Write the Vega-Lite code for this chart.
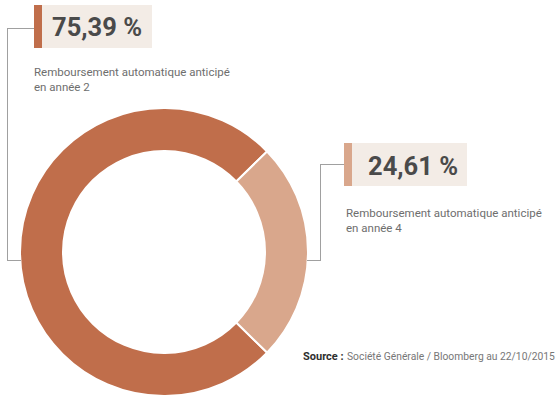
{
  "$schema": "https://vega.github.io/schema/vega-lite/v6.json",
  "width": 558,
  "height": 398,
  "padding": 0,
  "autosize": {"type": "none"},
  "background": "white",
  "config": {"view": {"stroke": null}},
  "data": {"values": [
    {"annee": "en année 2", "value": 75.39, "texte": "Remboursement automatique anticipé\nen année 2"},
    {"annee": "en année 4", "value": 24.61, "texte": "Remboursement automatique anticipé\nen année 4"}
  ]},
  "transform": [
    {"calculate": "replace(format(datum.value, '.2f'), '.', ',') + ' %'", "as": "pct"}
  ],
  "layer": [
    {
      "mark": {"type": "arc", "radius": 144, "radius2": 101, "stroke": "white", "strokeWidth": 2},
      "encoding": {
        "theta": {"field": "value", "type": "quantitative", "stack": true, "scale": {"range": [2.344, 8.6272]}},
        "order": {"field": "value", "type": "quantitative", "sort": "descending"},
        "color": {"field": "annee", "type": "nominal", "scale": {"domain": ["en année 2", "en année 4"], "range": ["#C06E4B", "#D9A78C"]}, "legend": null},
        "x": {"datum": 164, "type": "quantitative", "scale": {"domain": [0, 558], "nice": false, "zero": false}, "axis": null},
        "y": {"datum": 252, "type": "quantitative", "scale": {"domain": [0, 398], "nice": false, "zero": false, "reverse": true}, "axis": null}
      }
    },
    {
      "transform": [{"filter": "datum.annee == 'en année 2'"}],
      "layer": [
        {
          "mark": {"type": "rect", "color": "#F3ECE6"},
          "encoding": {
            "x": {"datum": 42, "type": "quantitative", "scale": {"domain": [0, 558], "nice": false, "zero": false}, "axis": null},
            "x2": {"datum": 152},
            "y": {"datum": 5, "type": "quantitative", "scale": {"domain": [0, 398], "nice": false, "zero": false, "reverse": true}, "axis": null},
            "y2": {"datum": 48}
          }
        },
        {
          "mark": {"type": "rect"},
          "encoding": {
            "x": {"datum": 34, "type": "quantitative", "scale": {"domain": [0, 558], "nice": false, "zero": false}, "axis": null},
            "x2": {"datum": 42},
            "y": {"datum": 5, "type": "quantitative", "scale": {"domain": [0, 398], "nice": false, "zero": false, "reverse": true}, "axis": null},
            "y2": {"datum": 48},
            "color": {"field": "annee", "type": "nominal", "legend": null}
          }
        },
        {
          "mark": {"type": "text", "align": "left", "baseline": "alphabetic", "font": "Roboto", "fontWeight": "bold", "fontSize": 25.5, "color": "#4A4A4A"},
          "encoding": {
            "x": {"datum": 52, "type": "quantitative", "scale": {"domain": [0, 558], "nice": false, "zero": false}, "axis": null},
            "y": {"datum": 36, "type": "quantitative", "scale": {"domain": [0, 398], "nice": false, "zero": false, "reverse": true}, "axis": null},
            "text": {"field": "pct", "type": "nominal"}
          }
        },
        {
          "mark": {"type": "text", "align": "left", "baseline": "alphabetic", "font": "Roboto", "fontSize": 11.5, "lineHeight": 14.5, "lineBreak": "\n", "color": "#6E6E6E"},
          "encoding": {
            "x": {"datum": 34, "type": "quantitative", "scale": {"domain": [0, 558], "nice": false, "zero": false}, "axis": null},
            "y": {"datum": 76, "type": "quantitative", "scale": {"domain": [0, 398], "nice": false, "zero": false, "reverse": true}, "axis": null},
            "text": {"field": "texte", "type": "nominal"}
          }
        }
      ]
    },
    {
      "transform": [{"filter": "datum.annee == 'en année 4'"}],
      "layer": [
        {
          "mark": {"type": "rect", "color": "#F3ECE6"},
          "encoding": {
            "x": {"datum": 352, "type": "quantitative", "scale": {"domain": [0, 558], "nice": false, "zero": false}, "axis": null},
            "x2": {"datum": 467},
            "y": {"datum": 143, "type": "quantitative", "scale": {"domain": [0, 398], "nice": false, "zero": false, "reverse": true}, "axis": null},
            "y2": {"datum": 186}
          }
        },
        {
          "mark": {"type": "rect"},
          "encoding": {
            "x": {"datum": 344, "type": "quantitative", "scale": {"domain": [0, 558], "nice": false, "zero": false}, "axis": null},
            "x2": {"datum": 352},
            "y": {"datum": 143, "type": "quantitative", "scale": {"domain": [0, 398], "nice": false, "zero": false, "reverse": true}, "axis": null},
            "y2": {"datum": 186},
            "color": {"field": "annee", "type": "nominal", "legend": null}
          }
        },
        {
          "mark": {"type": "text", "align": "left", "baseline": "alphabetic", "font": "Roboto", "fontWeight": "bold", "fontSize": 25.5, "color": "#4A4A4A"},
          "encoding": {
            "x": {"datum": 368, "type": "quantitative", "scale": {"domain": [0, 558], "nice": false, "zero": false}, "axis": null},
            "y": {"datum": 175, "type": "quantitative", "scale": {"domain": [0, 398], "nice": false, "zero": false, "reverse": true}, "axis": null},
            "text": {"field": "pct", "type": "nominal"}
          }
        },
        {
          "mark": {"type": "text", "align": "left", "baseline": "alphabetic", "font": "Roboto", "fontSize": 11.5, "lineHeight": 14.5, "lineBreak": "\n", "color": "#6E6E6E"},
          "encoding": {
            "x": {"datum": 346, "type": "quantitative", "scale": {"domain": [0, 558], "nice": false, "zero": false}, "axis": null},
            "y": {"datum": 217, "type": "quantitative", "scale": {"domain": [0, 398], "nice": false, "zero": false, "reverse": true}, "axis": null},
            "text": {"field": "texte", "type": "nominal"}
          }
        }
      ]
    },
    {
      "data": {"values": [{}]},
      "layer": [
        {
          "mark": {"type": "rule", "color": "#A0A0A0", "strokeWidth": 1},
          "encoding": {
            "x": {"datum": 7.5, "type": "quantitative", "scale": {"domain": [0, 558], "nice": false, "zero": false}, "axis": null},
            "y": {"datum": 28, "type": "quantitative", "scale": {"domain": [0, 398], "nice": false, "zero": false, "reverse": true}, "axis": null},
            "y2": {"datum": 260.5}
          }
        },
        {
          "mark": {"type": "rule", "color": "#A0A0A0", "strokeWidth": 1},
          "encoding": {
            "x": {"datum": 7, "type": "quantitative", "scale": {"domain": [0, 558], "nice": false, "zero": false}, "axis": null},
            "x2": {"datum": 34},
            "y": {"datum": 28.5, "type": "quantitative", "scale": {"domain": [0, 398], "nice": false, "zero": false, "reverse": true}, "axis": null}
          }
        },
        {
          "mark": {"type": "rule", "color": "#A0A0A0", "strokeWidth": 1},
          "encoding": {
            "x": {"datum": 7, "type": "quantitative", "scale": {"domain": [0, 558], "nice": false, "zero": false}, "axis": null},
            "x2": {"datum": 21},
            "y": {"datum": 260.5, "type": "quantitative", "scale": {"domain": [0, 398], "nice": false, "zero": false, "reverse": true}, "axis": null}
          }
        },
        {
          "mark": {"type": "rule", "color": "#A0A0A0", "strokeWidth": 1},
          "encoding": {
            "x": {"datum": 320.5, "type": "quantitative", "scale": {"domain": [0, 558], "nice": false, "zero": false}, "axis": null},
            "y": {"datum": 164, "type": "quantitative", "scale": {"domain": [0, 398], "nice": false, "zero": false, "reverse": true}, "axis": null},
            "y2": {"datum": 260.5}
          }
        },
        {
          "mark": {"type": "rule", "color": "#A0A0A0", "strokeWidth": 1},
          "encoding": {
            "x": {"datum": 320, "type": "quantitative", "scale": {"domain": [0, 558], "nice": false, "zero": false}, "axis": null},
            "x2": {"datum": 344},
            "y": {"datum": 164.5, "type": "quantitative", "scale": {"domain": [0, 398], "nice": false, "zero": false, "reverse": true}, "axis": null}
          }
        },
        {
          "mark": {"type": "rule", "color": "#A0A0A0", "strokeWidth": 1},
          "encoding": {
            "x": {"datum": 307, "type": "quantitative", "scale": {"domain": [0, 558], "nice": false, "zero": false}, "axis": null},
            "x2": {"datum": 321},
            "y": {"datum": 260.5, "type": "quantitative", "scale": {"domain": [0, 398], "nice": false, "zero": false, "reverse": true}, "axis": null}
          }
        },
        {
          "mark": {"type": "text", "align": "left", "baseline": "alphabetic", "font": "Roboto", "fontWeight": "bold", "fontSize": 11, "color": "#2E2E2E"},
          "encoding": {
            "x": {"datum": 303, "type": "quantitative", "scale": {"domain": [0, 558], "nice": false, "zero": false}, "axis": null},
            "y": {"datum": 360, "type": "quantitative", "scale": {"domain": [0, 398], "nice": false, "zero": false, "reverse": true}, "axis": null},
            "text": {"value": "Source :"}
          }
        },
        {
          "mark": {"type": "text", "align": "left", "baseline": "alphabetic", "font": "Roboto", "fontSize": 10.3, "color": "#777777"},
          "encoding": {
            "x": {"datum": 347, "type": "quantitative", "scale": {"domain": [0, 558], "nice": false, "zero": false}, "axis": null},
            "y": {"datum": 360, "type": "quantitative", "scale": {"domain": [0, 398], "nice": false, "zero": false, "reverse": true}, "axis": null},
            "text": {"value": "Société Générale / Bloomberg au 22/10/2015"}
          }
        }
      ]
    }
  ]
}
